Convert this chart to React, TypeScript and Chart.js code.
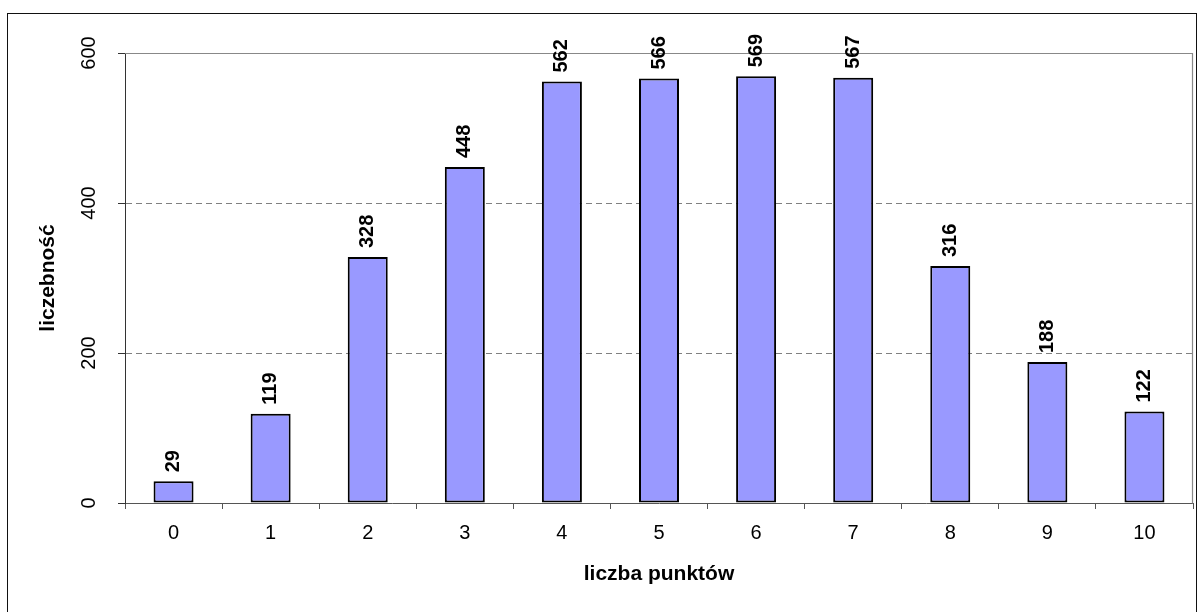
import { useEffect, useRef } from "react";
import { Chart, registerables } from "chart.js";

Chart.register(...registerables);

// Score distribution: how many results got each number of points
const categories = ["0", "1", "2", "3", "4", "5", "6", "7", "8", "9", "10"];
const counts = [29, 119, 328, 448, 562, 566, 569, 567, 316, 188, 122];
const yTickValues = [0, 200, 400, 600];
const xTitle = "liczba punktów";
const yTitle = "liczebność";

const FONT = "'Liberation Sans', Arial, Helvetica, sans-serif";
const BAR_FILL = "#9999FF";

// Outer frame around the whole chart
const framePlugin = {
  id: "outerFrame",
  beforeDraw(chart: any) {
    const ctx = chart.ctx;
    ctx.save();
    ctx.fillStyle = "#ffffff";
    ctx.fillRect(0, 0, chart.width, chart.height);
    ctx.strokeStyle = "#111111";
    ctx.lineWidth = 1;
    ctx.strokeRect(7.5, 13.5, 1189, 640);
    ctx.restore();
  },
};

// Top and right edges of the plot area (solid grey)
const plotBorderPlugin = {
  id: "plotBorder",
  beforeDatasetsDraw(chart: any) {
    const { ctx, chartArea, scales } = chart;
    const yTop = Math.round(scales.y.getPixelForValue(yTickValues[yTickValues.length - 1])) + 0.5;
    const xRight = Math.round(chartArea.right) - 0.5;
    const yBottom = Math.round(scales.y.getPixelForValue(0)) + 0.5;
    ctx.save();
    ctx.strokeStyle = "#888888";
    ctx.lineWidth = 1.2;
    ctx.beginPath();
    ctx.moveTo(chartArea.left, yTop);
    ctx.lineTo(xRight, yTop);
    ctx.lineTo(xRight, yBottom);
    ctx.stroke();
    ctx.restore();
  },
};

// Vertical value labels above each bar
const barLabelPlugin = {
  id: "barLabels",
  afterDatasetsDraw(chart: any) {
    const { ctx } = chart;
    const meta = chart.getDatasetMeta(0);
    ctx.save();
    ctx.fillStyle = "#000000";
    ctx.font = `bold 20px ${FONT}`;
    ctx.textAlign = "left";
    ctx.textBaseline = "middle";
    meta.data.forEach((bar: any, i: number) => {
      ctx.save();
      ctx.translate(bar.x, bar.y - 9);
      ctx.rotate(-Math.PI / 2);
      ctx.fillText(String(counts[i]), 0, 0);
      ctx.restore();
    });
    ctx.restore();
  },
};

export default function App() {
  const canvasRef = useRef<HTMLCanvasElement | null>(null);

  useEffect(() => {
    if (!canvasRef.current) return;
    const chart = new Chart(canvasRef.current, {
      type: "bar",
      data: {
        labels: categories,
        datasets: [
          {
            data: counts,
            backgroundColor: BAR_FILL,
            borderColor: "#000000",
            borderWidth: 2,
            borderSkipped: false,
            barPercentage: 0.412,
            categoryPercentage: 1,
          },
        ],
      },
      options: {
        animation: false,
        responsive: false,
        devicePixelRatio: 1,
        layout: { padding: { top: 53, right: 5, left: 0, bottom: 0 } },
        plugins: {
          legend: { display: false },
          tooltip: { enabled: false },
          title: { display: false },
        },
        scales: {
          x: {
            offset: true,
            afterFit: (scale: any) => {
              scale.height = 109;
            },
            grid: {
              offset: true,
              drawOnChartArea: false,
              drawTicks: true,
              tickLength: 6,
              color: "#555555",
              tickColor: "#555555",
            },
            border: { display: true, color: "#555555", width: 1 },
            ticks: {
              color: "#000000",
              font: { family: FONT, size: 20 },
              padding: 12,
              maxRotation: 0,
              minRotation: 0,
              autoSkip: false,
            },
            title: {
              display: true,
              text: xTitle,
              color: "#000000",
              font: { family: FONT, size: 21, weight: "bold" },
              padding: { top: 0, bottom: 25 },
            },
          },
          y: {
            min: yTickValues[0],
            max: yTickValues[yTickValues.length - 1],
            afterBuildTicks: (scale: any) => {
              scale.ticks = yTickValues.map((v) => ({ value: v }));
            },
            afterFit: (scale: any) => {
              scale.width = 125;
            },
            grid: {
              drawTicks: true,
              tickLength: 7,
              color: (c: any) =>
                c.tick && c.tick.value > yTickValues[0] && c.tick.value < yTickValues[yTickValues.length - 1]
                  ? "#808080"
                  : "rgba(0,0,0,0)",
              tickColor: "#333333",
              lineWidth: 1,
            },
            border: { display: true, color: "#333333", width: 1, dash: [6, 4] },
            ticks: {
              color: "#000000",
              font: { family: FONT, size: 20 },
              padding: 12,
              minRotation: 90,
              maxRotation: 90,
              crossAlign: "center",
              autoSkip: false,
            },
            title: {
              display: true,
              text: yTitle,
              color: "#000000",
              font: { family: FONT, size: 21, weight: "bold" },
              padding: { top: 36, bottom: 0 },
            },
          },
        },
      },
      plugins: [framePlugin, plotBorderPlugin, barLabelPlugin],
    } as any);
    return () => chart.destroy();
  }, []);

  return (
    <div style={{ position: "absolute", left: 0, top: 0, width: 1198, height: 612 }}>
      <canvas ref={canvasRef} width={1198} height={612} style={{ display: "block" }} />
    </div>
  );
}
